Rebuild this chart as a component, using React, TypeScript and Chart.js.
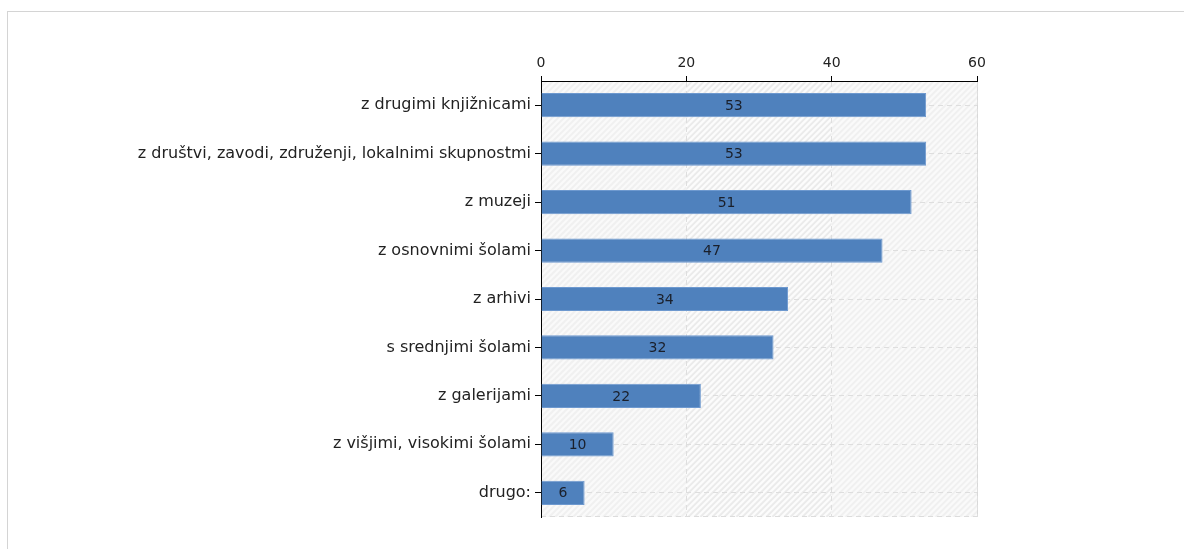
import React, { useEffect, useRef } from "react";
import { Chart, registerables } from "chart.js";

Chart.register(...registerables);

const categories = [
  "z drugimi knjižnicami",
  "z društvi, zavodi, združenji, lokalnimi skupnostmi",
  "z muzeji",
  "z osnovnimi šolami",
  "z arhivi",
  "s srednjimi šolami",
  "z galerijami",
  "z višjimi, visokimi šolami",
  "drugo:",
];
const values = [53, 53, 51, 47, 34, 32, 22, 10, 6];
const xTicks = [0, 20, 40, 60];

const FONT = "'DejaVu Sans', Verdana, sans-serif";

const backgroundPlugin = {
  id: "hatchBg",
  beforeDraw(chart: any) {
    const { ctx, chartArea } = chart;
    const { left, top, right, bottom } = chartArea;
    const xs = chart.scales.x;
    ctx.save();
    const bands = [
      [0, 20, "#fafafa", "#f0f0f0"],
      [20, 40, "#fcfcfc", "#ebebeb"],
      [40, 60, "#fafafa", "#f0f0f0"],
    ];
    for (const [a, b, bg, col] of bands as any) {
      const x1 = xs.getPixelForValue(a);
      const x2 = xs.getPixelForValue(b);
      ctx.save();
      ctx.beginPath();
      ctx.rect(x1, top, x2 - x1, bottom - top);
      ctx.clip();
      ctx.fillStyle = bg;
      ctx.fillRect(x1, top, x2 - x1, bottom - top);
      ctx.strokeStyle = col;
      ctx.lineWidth = 2;
      ctx.beginPath();
      const h = bottom - top;
      for (let s = x1 - h; s < x2 + 6; s += 6) {
        ctx.moveTo(s, bottom);
        ctx.lineTo(s + h, top);
      }
      ctx.stroke();
      ctx.restore();
    }
    ctx.strokeStyle = "#d8d8d8";
    ctx.lineWidth = 1;
    ctx.beginPath();
    ctx.moveTo(right + 0.5, top);
    ctx.lineTo(right + 0.5, bottom);
    ctx.stroke();
    ctx.setLineDash([5, 4]);
    ctx.strokeStyle = "#dcdcdc";
    ctx.beginPath();
    ctx.moveTo(left, bottom - 0.5);
    ctx.lineTo(right, bottom - 0.5);
    ctx.stroke();
    ctx.restore();
  },
};

const labelPlugin = {
  id: "valueLabels",
  afterDatasetsDraw(chart: any) {
    const { ctx } = chart;
    const meta = chart.getDatasetMeta(0);
    ctx.save();
    ctx.font = `14px ${FONT}`;
    ctx.fillStyle = "#1a1f2a";
    ctx.textAlign = "center";
    ctx.textBaseline = "middle";
    meta.data.forEach((el: any, i: number) => {
      const cx = (el.x + el.base) / 2;
      ctx.fillText(String(values[i]), cx, el.y + 1);
    });
    ctx.restore();
  },
};

export default function App() {
  const ref = useRef<HTMLCanvasElement | null>(null);

  useEffect(() => {
    if (!ref.current) return;
    const chart = new Chart(ref.current, {
      type: "bar",
      data: {
        labels: categories,
        datasets: [
          {
            data: values,
            backgroundColor: "#4f81bd",
            borderColor: "#6e99cf",
            borderWidth: 1,
            barPercentage: 0.5,
            categoryPercentage: 1,
          },
        ],
      },
      options: {
        indexAxis: "y",
        animation: false,
        responsive: false,
        devicePixelRatio: 1,
        layout: { padding: { left: 0, top: 0, right: 207, bottom: 32 } },
        plugins: {
          legend: { display: false },
          tooltip: { enabled: false },
        },
        scales: {
          x: {
            position: "top",
            min: 0,
            max: 60,
            afterBuildTicks: (scale: any) => {
              scale.ticks = xTicks.map((v) => ({ value: v }));
            },
            afterFit: (scale: any) => {
              scale.height = 81;
            },
            ticks: {
              color: "#222",
              font: { family: FONT, size: 14 },
              padding: 4,
            },
            grid: {
              color: "#dedede",
              tickColor: "#000",
              tickLength: 5,
              lineWidth: 1,
            },
            border: { display: true, color: "#000", width: 1, dash: [5, 4] },
          },
          y: {
            afterFit: (scale: any) => {
              scale.width = 541;
            },
            ticks: {
              color: "#222",
              font: { family: FONT, size: 16 },
              padding: 4,
            },
            grid: {
              offset: false,
              color: "#dedede",
              tickColor: "#000",
              tickLength: 6,
              lineWidth: 1,
            },
            border: { display: true, color: "#000", width: 1, dash: [5, 4] },
          },
        },
      },
      plugins: [backgroundPlugin, labelPlugin],
    } as any);
    return () => chart.destroy();
  }, []);

  return (
    <div style={{ position: "fixed", left: 0, top: 0, width: 1184, height: 549, background: "#fff" }}>
      <div
        style={{
          position: "absolute",
          left: 7,
          top: 11,
          width: 1190,
          height: 560,
          borderLeft: "1px solid #d4d4d4",
          borderTop: "1px solid #d4d4d4",
        }}
      />
      <canvas ref={ref} width={1184} height={549} style={{ position: "absolute", left: 0, top: 0 }} />
    </div>
  );
}
